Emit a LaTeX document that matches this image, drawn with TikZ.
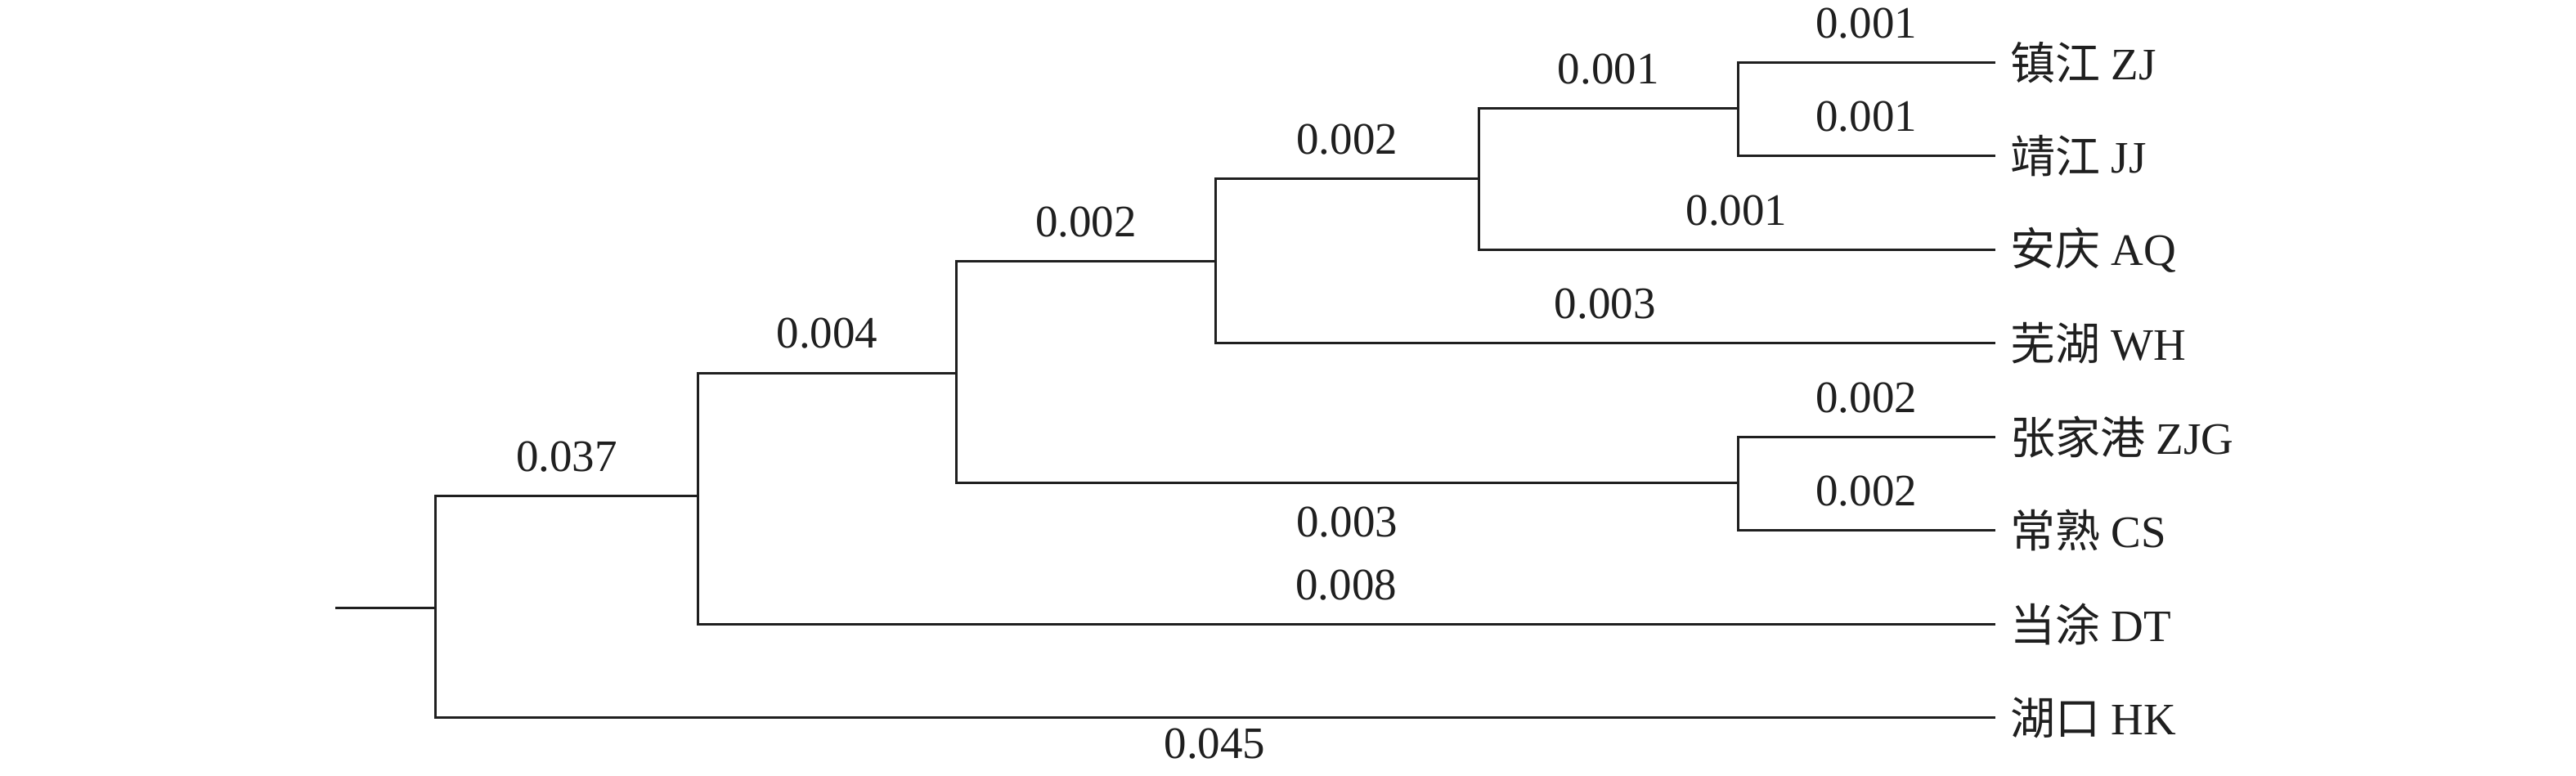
\documentclass[tikz,border=0pt]{standalone}
\usepackage{fontspec}
\setmainfont{Liberation Serif}
\newfontfamily\cjk{Noto Sans CJK SC}
\begin{document}
\begin{tikzpicture}[x=2.009pt,y=-2.009pt,
  br/.style={line width=3pt, line cap=rect, line join=miter, color=black!88},
  leaf/.style={anchor=west, inner sep=0pt, xshift=19pt, font=\fontsize{55}{60}\selectfont, text=black!88},
  lab/.style={inner sep=0pt, font=\fontsize{55}{60}\selectfont, text=black!88},
  up/.style={lab, above=28pt},
  dn/.style={lab, below=28pt},
  dnb/.style={lab, below=12pt}]
\useasboundingbox (0,0) rectangle (1568,472);
% internal nodes
\coordinate (R) at (265,370);
\coordinate (Rs) at (205,370);
\coordinate (A) at (425,302);
\coordinate (B) at (582,227);
\coordinate (C) at (740,159);
\coordinate (D) at (900,109);
\coordinate (E) at (1058,66);
\coordinate (F) at (1058,294);
% leaf ends
\coordinate (zj) at (1214,38);
\coordinate (jj) at (1214,95);
\coordinate (aq) at (1214,152);
\coordinate (wh) at (1214,209);
\coordinate (zjg) at (1214,266);
\coordinate (cs) at (1214,323);
\coordinate (dt) at (1214,380);
\coordinate (hk) at (1214,437);
% leaf labels
\node[leaf] (Lzj) at (zj) {{\cjk 镇江} ZJ};
\node[leaf] (Ljj) at (jj) {{\cjk 靖江} JJ};
\node[leaf] (Laq) at (aq) {{\cjk 安庆} AQ};
\node[leaf] (Lwh) at (wh) {{\cjk 芜湖} WH};
\node[leaf] (Lzjg) at (zjg) {{\cjk 张家港} ZJG};
\node[leaf] (Lcs) at (cs) {{\cjk 常熟} CS};
\node[leaf] (Ldt) at (dt) {{\cjk 当涂} DT};
\node[leaf] (Lhk) at (hk) {{\cjk 湖口} HK};
% branches
\draw[br] (Rs) -- (R);
\draw[br] (R |- A) -- (A) node[midway, up] {0.037};
\draw[br] (R |- A) -- (R |- hk) -- (hk) node[midway, dnb] {0.045};
\draw[br] (A |- B) -- (A |- dt) -- (dt) node[midway, up] {0.008};
\draw[br] (A |- B) -- (B) node[midway, up] {0.004};
\draw[br] (B |- C) -- (B |- F) -- (F) node[midway, dn] {0.003};
\draw[br] (B |- C) -- (C) node[midway, up] {0.002};
\draw[br] (C |- D) -- (C |- wh) -- (wh) node[midway, up] {0.003};
\draw[br] (C |- D) -- (D) node[midway, up] {0.002};
\draw[br] (D |- E) -- (D |- aq) -- (aq) node[midway, up] {0.001};
\draw[br] (D |- E) -- (E) node[midway, up] {0.001};
\draw[br] (E |- zj) -- (E |- jj) -- (jj) node[midway, up] {0.001};
\draw[br] (E |- zj) -- (zj) node[midway, up] {0.001};
\draw[br] (F |- zjg) -- (F |- cs) -- (cs) node[midway, up] {0.002};
\draw[br] (F |- zjg) -- (zjg) node[midway, up] {0.002};
\end{tikzpicture}
\end{document}
